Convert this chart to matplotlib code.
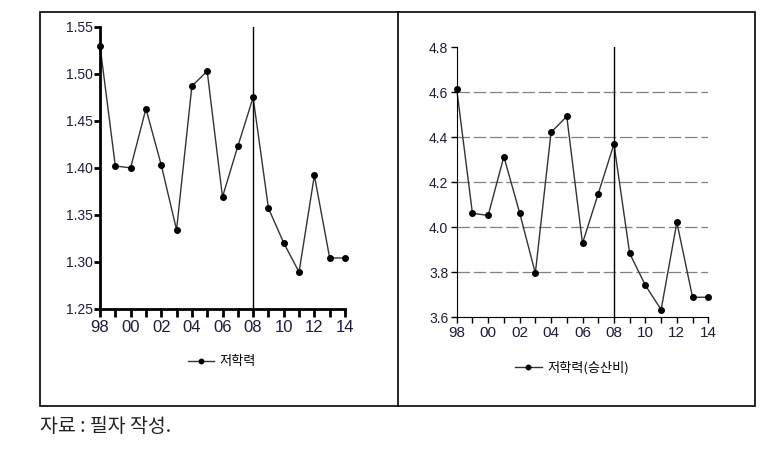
import matplotlib
matplotlib.use("Agg")
from matplotlib import pyplot as plt
from matplotlib.patches import Rectangle
from matplotlib.lines import Line2D
from matplotlib import font_manager

# Data
years = list(range(1998, 2015))
low_edu = [1.530, 1.402, 1.400, 1.463, 1.403, 1.334, 1.487, 1.503, 1.369,
           1.423, 1.475, 1.357, 1.320, 1.289, 1.392, 1.304, 1.304]
low_edu_or = [4.615, 4.062, 4.053, 4.314, 4.065, 3.796, 4.422, 4.493, 3.929,
              4.149, 4.370, 3.884, 3.742, 3.634, 4.022, 3.689, 3.689]
year_labels = ["98", "", "00", "", "02", "", "04", "", "06", "", "08", "", "10", "", "12", "", "14"]
left_yticks = [1.25, 1.30, 1.35, 1.40, 1.45, 1.50, 1.55]
left_ylabels = ["1.25", "1.30", "1.35", "1.40", "1.45", "1.50", "1.55"]
right_yticks = [3.6, 3.8, 4.0, 4.2, 4.4, 4.6, 4.8]
right_ylabels = ["3.6", "3.8", "4.0", "4.2", "4.4", "4.6", "4.8"]
grid_levels = [3.8, 4.0, 4.2, 4.4, 4.6]
label_left = "저학력"
label_right = "저학력(승산비)"
source = "자료 : 필자 작성."

# condensed face if there is one
names = {f.name for f in font_manager.fontManager.ttflist}
narrow = [n for n in ["Liberation Sans Narrow", "DejaVu Sans Condensed"] if n in names]
narrow = narrow + ["Liberation Sans", "DejaVu Sans"]
kr = ["Noto Sans CJK KR", "DejaVu Sans"]
tick_color = "#1c1c3c"

fig = plt.figure(figsize=(7.84, 4.57), dpi=100)

# outer frame and divider
fig.patches.append(Rectangle((40 / 784, 1 - 406 / 457), 715 / 784, 394 / 457,
                             transform=fig.transFigure, fill=False, lw=1.2, edgecolor="black"))
fig.lines.append(Line2D([398 / 784, 398 / 784], [1 - 406 / 457, 1 - 12 / 457],
                        transform=fig.transFigure, lw=1.2, color="black"))

# Left panel
ax1 = fig.add_axes([100 / 784, 1 - 308.7 / 457, 245 / 784, 281.7 / 457])
ax1.plot(years, low_edu, color="#333333", lw=1, marker="o", markersize=4,
         markerfacecolor="black", markeredgecolor="black", clip_on=False, label=label_left)
ax1.axvline(2008, color="black", lw=1)
ax1.set_xlim(1998, 2014)
ax1.set_ylim(1.25, 1.55)
ax1.set_xticks(years)
ax1.set_xticklabels(year_labels, family=narrow, fontsize=12, color=tick_color)
ax1.set_yticks(left_yticks)
ax1.set_yticklabels(left_ylabels, family=narrow, fontsize=10, color=tick_color)
for s in ["top", "right"]:
    ax1.spines[s].set_visible(False)
for s in ["left", "bottom"]:
    ax1.spines[s].set_linewidth(2)
ax1.tick_params(axis="x", direction="out", length=6, width=2, pad=2)
ax1.tick_params(axis="y", direction="out", length=4, width=2, pad=1)
ax1.legend(loc="center", bbox_to_anchor=(222 / 784, 1 - 362 / 457),
           bbox_transform=fig.transFigure, frameon=False, handlelength=2,
           prop={"family": kr, "size": 9.5}, handletextpad=0.4, markerscale=0.8)

# Right panel
ax2 = fig.add_axes([456.7 / 784, 1 - 317.3 / 457, 251.6 / 784, 270 / 457])
for g in grid_levels:
    ax2.axhline(g, color="#808080", lw=0.9, dashes=(10, 3), zorder=0)
ax2.plot(years, low_edu_or, color="#333333", lw=1, marker="o", markersize=4,
         markerfacecolor="black", markeredgecolor="black", clip_on=False, label=label_right)
ax2.axvline(2008, color="black", lw=1)
ax2.set_xlim(1998, 2014)
ax2.set_ylim(3.6, 4.8)
ax2.set_xticks(years)
ax2.set_xticklabels(year_labels, family=narrow, fontsize=11, color=tick_color)
ax2.set_yticks(right_yticks)
ax2.set_yticklabels(right_ylabels, family=narrow, fontsize=10, color=tick_color)
for s in ["top", "right"]:
    ax2.spines[s].set_visible(False)
ax2.tick_params(axis="both", direction="out", length=4, width=1, pad=2)
ax2.legend(loc="center", bbox_to_anchor=(572 / 784, 1 - 368 / 457),
           bbox_transform=fig.transFigure, frameon=False, handlelength=2,
           prop={"family": kr, "size": 9.5}, handletextpad=0.4, markerscale=0.8)

fig.text(40 / 784, 1 - 427 / 457, source, family=kr, fontsize=14,
         va="center", ha="left", color="#222222")

fig.savefig("out.png", dpi=100)
